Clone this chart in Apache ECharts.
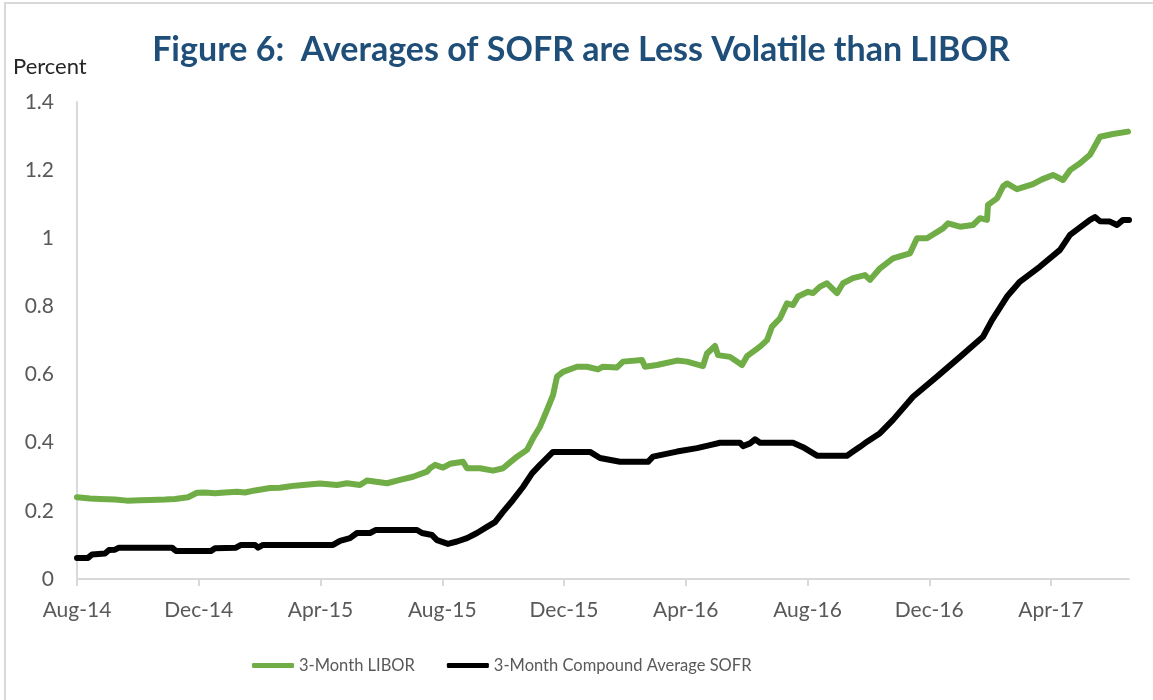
<!DOCTYPE html>
<html>
<head>
<meta charset="utf-8">
<script src="https://cdn.jsdelivr.net/npm/echarts@6/dist/echarts.min.js"></script>
<style>
  html, body { margin: 0; padding: 0; background: #fff; }
  #chart { width: 1153px; height: 700px; }
</style>
</head>
<body>
<div id="chart"></div>
<script>
// axis runs from Aug-14 to mid-June 2017
const startDate = '2014-08-01';
const endDate = '2017-06-18';
const tickLabels = ['Aug-14', 'Dec-14', 'Apr-15', 'Aug-15', 'Dec-15', 'Apr-16', 'Aug-16', 'Dec-16', 'Apr-17'];

const liborDates = [
  '2014-08-01', '2014-08-14', '2014-08-24', '2014-09-08', '2014-09-20', '2014-10-03', '2014-10-13', '2014-10-28',
  '2014-11-07', '2014-11-20', '2014-11-29', '2014-12-07', '2014-12-17', '2014-12-27', '2015-01-08', '2015-01-16',
  '2015-01-26', '2015-02-10', '2015-02-20', '2015-02-27', '2015-03-07', '2015-03-15', '2015-04-01', '2015-04-18',
  '2015-04-28', '2015-05-11', '2015-05-18', '2015-06-07', '2015-06-20', '2015-07-03', '2015-07-17', '2015-07-20',
  '2015-07-25', '2015-08-02', '2015-08-09', '2015-08-22', '2015-08-26', '2015-09-08', '2015-09-21', '2015-10-01',
  '2015-10-15', '2015-10-25', '2015-10-31', '2015-11-07', '2015-11-14', '2015-11-20', '2015-11-24', '2015-11-30',
  '2015-12-14', '2015-12-24', '2016-01-04', '2016-01-09', '2016-01-23', '2016-01-29', '2016-02-17', '2016-02-20',
  '2016-03-03', '2016-03-23', '2016-04-02', '2016-04-18', '2016-04-22', '2016-04-30', '2016-05-03', '2016-05-15',
  '2016-05-27', '2016-06-01', '2016-06-14', '2016-06-21', '2016-06-26', '2016-07-04', '2016-07-11', '2016-07-17',
  '2016-07-22', '2016-08-01', '2016-08-06', '2016-08-13', '2016-08-20', '2016-08-30', '2016-09-05', '2016-09-15',
  '2016-09-27', '2016-10-02', '2016-10-12', '2016-10-25', '2016-11-11', '2016-11-18', '2016-11-28', '2016-12-14',
  '2016-12-19', '2016-12-31', '2017-01-13', '2017-01-20', '2017-01-27', '2017-01-28', '2017-02-06', '2017-02-12',
  '2017-02-16', '2017-02-26', '2017-03-14', '2017-03-23', '2017-04-03', '2017-04-13', '2017-04-20', '2017-04-30',
  '2017-05-10', '2017-05-20', '2017-06-02', '2017-06-17'
];
const liborValues = [
  0.240, 0.236, 0.235, 0.233, 0.230, 0.231, 0.232, 0.233,
  0.235, 0.240, 0.253, 0.254, 0.252, 0.254, 0.256, 0.254,
  0.260, 0.267, 0.268, 0.271, 0.274, 0.276, 0.280, 0.276,
  0.281, 0.276, 0.289, 0.281, 0.291, 0.300, 0.315, 0.325,
  0.335, 0.327, 0.338, 0.344, 0.325, 0.325, 0.318, 0.325,
  0.359, 0.379, 0.413, 0.447, 0.496, 0.540, 0.594, 0.608,
  0.623, 0.623, 0.615, 0.623, 0.621, 0.638, 0.643, 0.623,
  0.628, 0.641, 0.638, 0.625, 0.662, 0.684, 0.657, 0.652,
  0.628, 0.654, 0.682, 0.701, 0.741, 0.765, 0.809, 0.804,
  0.829, 0.843, 0.839, 0.858, 0.868, 0.839, 0.868, 0.883,
  0.892, 0.878, 0.912, 0.941, 0.956, 1.000, 1.000, 1.029,
  1.044, 1.034, 1.039, 1.059, 1.054, 1.098, 1.117, 1.152,
  1.161, 1.144, 1.159, 1.173, 1.186, 1.171, 1.200, 1.220,
  1.245, 1.298, 1.306, 1.313
];

const sofrDates = [
  '2014-08-01', '2014-08-12', '2014-08-16', '2014-08-29', '2014-09-02', '2014-09-08', '2014-09-12', '2014-11-04',
  '2014-11-08', '2014-12-13', '2014-12-17', '2015-01-07', '2015-01-12', '2015-01-26', '2015-01-29', '2015-02-03',
  '2015-04-14', '2015-04-21', '2015-05-01', '2015-05-08', '2015-05-21', '2015-05-27', '2015-07-07', '2015-07-12',
  '2015-07-22', '2015-07-27', '2015-08-07', '2015-08-16', '2015-08-26', '2015-09-05', '2015-09-15', '2015-09-23',
  '2015-10-01', '2015-10-11', '2015-10-21', '2015-10-30', '2015-11-07', '2015-11-17', '2015-11-20', '2015-12-27',
  '2016-01-06', '2016-01-26', '2016-02-23', '2016-02-28', '2016-03-23', '2016-04-12', '2016-04-25', '2016-05-05',
  '2016-05-25', '2016-05-28', '2016-06-04', '2016-06-09', '2016-06-14', '2016-07-17', '2016-07-27', '2016-08-10',
  '2016-09-09', '2016-09-15', '2016-09-22', '2016-09-29', '2016-10-12', '2016-10-25', '2016-11-14', '2016-12-08',
  '2016-12-31', '2017-01-23', '2017-02-01', '2017-02-16', '2017-03-01', '2017-03-21', '2017-04-10', '2017-04-20',
  '2017-05-10', '2017-05-15', '2017-05-20', '2017-05-30', '2017-06-06', '2017-06-12', '2017-06-18'
];
const sofrValues = [
  0.062, 0.062, 0.072, 0.075, 0.085, 0.086, 0.092, 0.092,
  0.082, 0.082, 0.090, 0.092, 0.100, 0.100, 0.092, 0.100,
  0.100, 0.112, 0.120, 0.135, 0.135, 0.144, 0.144, 0.135,
  0.129, 0.114, 0.103, 0.110, 0.120, 0.135, 0.153, 0.167,
  0.197, 0.232, 0.270, 0.310, 0.335, 0.364, 0.373, 0.373,
  0.355, 0.344, 0.344, 0.359, 0.374, 0.384, 0.393, 0.400,
  0.400, 0.390, 0.398, 0.410, 0.400, 0.400, 0.387, 0.362,
  0.362, 0.374, 0.388, 0.403, 0.428, 0.467, 0.535, 0.594,
  0.652, 0.711, 0.760, 0.829, 0.873, 0.917, 0.966, 1.010,
  1.054, 1.062, 1.050, 1.049, 1.039, 1.054, 1.054
];

// position on the axis in months since Aug-14
const toMonths = d => (Date.parse(d) - Date.parse(startDate)) / 86400000 / 30.4375;
const pairs = (dates, vals) => dates.map((d, i) => [toMonths(d), vals[i]]);
const tickPos = tickLabels.map((t, i) => i * 4);

const myChart = echarts.init(document.getElementById('chart'));
const font = 'Lato, "Open Sans", sans-serif';

const option = {
  animation: false,
  backgroundColor: '#fff',
  textStyle: { fontFamily: font },
  graphic: [
    {
      type: 'rect',
      shape: { x: 5, y: 3, width: 1200, height: 750 },
      style: { fill: 'none', stroke: '#D9D9D9', lineWidth: 2 },
      silent: true
    },
    {
      type: 'text',
      left: 13,
      top: 56,
      style: { text: 'Percent', font: '22px ' + font, fill: '#262626' }
    },
    {
      type: 'text',
      x: 581,
      y: 50,
      style: {
        text: 'Figure 6:  Averages of SOFR are Less Volatile than LIBOR',
        font: 'bold 34px ' + font,
        fill: '#1F4E79',
        align: 'center',
        verticalAlign: 'middle'
      }
    }
  ],
  grid: { left: 77, right: 24, top: 102, bottom: 121 },
  legend: {
    left: 247,
    top: 652,
    itemWidth: 42,
    itemHeight: 5,
    itemGap: 32,
    icon: 'roundRect',
    textStyle: { fontSize: 16.5, color: '#595959', fontFamily: font },
    data: ['3-Month LIBOR', '3-Month Compound Average SOFR']
  },
  xAxis: {
    type: 'value',
    min: 0,
    max: toMonths(endDate),
    interval: 4,
    splitLine: { show: false },
    axisLine: { show: true, lineStyle: { color: '#D9D9D9', width: 2 } },
    axisTick: { show: true, length: 7, customValues: tickPos, lineStyle: { color: '#D9D9D9', width: 2 } },
    axisLabel: {
      customValues: tickPos,
      margin: 21,
      fontSize: 21,
      color: '#595959',
      formatter: v => tickLabels[Math.round(v / 4)] || ''
    }
  },
  yAxis: {
    type: 'value',
    min: 0,
    max: 1.4,
    interval: 0.2,
    splitLine: { show: false },
    axisTick: { show: false },
    axisLine: { show: true, lineStyle: { color: '#D9D9D9', width: 2 } },
    axisLabel: {
      margin: 23,
      fontSize: 21,
      color: '#595959',
      formatter: v => String(parseFloat(v.toFixed(1)))
    }
  },
  series: [
    {
      name: '3-Month LIBOR',
      type: 'line',
      symbol: 'none',
      color: '#70AD47',
      lineStyle: { width: 6, color: '#70AD47', cap: 'round', join: 'round' },
      data: pairs(liborDates, liborValues)
    },
    {
      name: '3-Month Compound Average SOFR',
      type: 'line',
      symbol: 'none',
      color: '#000',
      lineStyle: { width: 6, color: '#000', cap: 'round', join: 'round' },
      data: pairs(sofrDates, sofrValues)
    }
  ]
};
option && myChart.setOption(option);
</script>
</body>
</html>
